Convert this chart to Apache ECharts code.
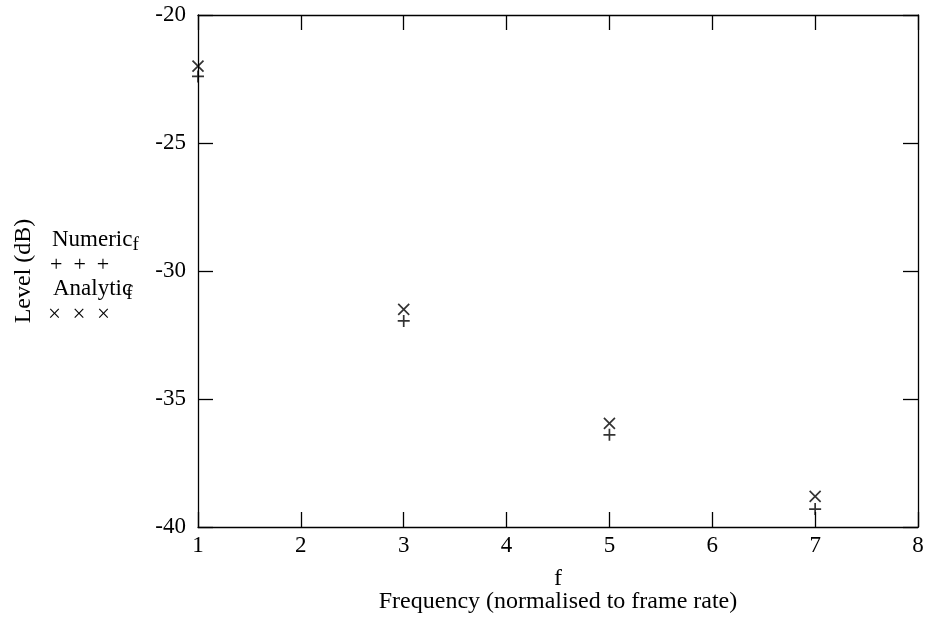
<!DOCTYPE html>
<html>
<head>
<meta charset="utf-8">
<script src="https://cdn.jsdelivr.net/npm/echarts@6/dist/echarts.min.js"></script>
<style>html,body{margin:0;padding:0;background:#fff}#c{width:930px;height:627px}</style>
</head>
<body>
<div id="c"></div>
<script>
const freqs = [1, 3, 5, 7];
const numericLevels = [-22.4, -31.95, -36.4, -39.3];
const analyticLevels = [-22.0, -31.5, -35.95, -38.8];
const xTicks = [1, 2, 3, 4, 5, 6, 7, 8];
const yTicks = [-40, -35, -30, -25, -20];

const FONT = '"Liberation Serif", "DejaVu Serif", serif';
const plusPath = 'path://M0,-5L0,5M-5,0L5,0';
const crossPath = 'path://M-5,-5L5,5M-5,5L5,-5';

const chart = echarts.init(document.getElementById('c'));
const axisLine = {show: true, lineStyle: {color: '#000', width: 1.3}};
const tick = {show: true, inside: true, length: 15, lineStyle: {color: '#000', width: 1.3}};

chart.setOption({
  animation: false,
  backgroundColor: '#fff',
  textStyle: {fontFamily: FONT},
  grid: {left: 198, right: 12, top: 15, bottom: 100},
  xAxis: [{
    type: 'value', min: 1, max: 8, interval: 1,
    axisLine, axisTick: tick, splitLine: {show: false},
    axisLabel: {color: '#000', fontSize: 23, fontFamily: FONT, margin: 7},
    name: 'f\nFrequency (normalised to frame rate)',
    nameLocation: 'middle', nameGap: 40,
    nameTextStyle: {color: '#000', fontSize: 24, fontFamily: FONT, lineHeight: 23, verticalAlign: 'top'}
  }, {
    type: 'value', min: 1, max: 8, interval: 1, position: 'top',
    axisLine, axisTick: tick, splitLine: {show: false}, axisLabel: {show: false}
  }],
  yAxis: [{
    type: 'value', min: -40, max: -20, interval: 5,
    axisLine, axisTick: tick, splitLine: {show: false},
    axisLabel: {color: '#000', fontSize: 23, fontFamily: FONT, margin: 12},
    name: 'Level (dB)', nameLocation: 'middle', nameGap: 162,
    nameTextStyle: {color: '#000', fontSize: 24, fontFamily: FONT}
  }, {
    type: 'value', min: -40, max: -20, interval: 5, position: 'right',
    axisLine, axisTick: tick, splitLine: {show: false}, axisLabel: {show: false}
  }],
  series: [{
    name: 'Numeric', type: 'scatter',
    data: freqs.map((f, i) => [f, numericLevels[i]]),
    symbol: plusPath, symbolSize: 12,
    itemStyle: {color: 'none', borderColor: '#000', borderWidth: 1.7},
    emphasis: {disabled: true}
  }, {
    name: 'Analytic', type: 'scatter',
    data: freqs.map((f, i) => [f, analyticLevels[i]]),
    symbol: crossPath, symbolSize: 11,
    itemStyle: {color: 'none', borderColor: '#000', borderWidth: 1.7},
    emphasis: {disabled: true}
  }],
  graphic: [
    {type: 'text', left: 52, top: 228, style: {
      text: '{m|Numeric}{s|f}', fill: '#000',
      rich: {m: {fontSize: 23, fontFamily: FONT, fill: '#000'}, s: {fontSize: 19, fontFamily: FONT, fill: '#000', padding: [12, 0, 0, 0]}}
    }},
    {type: 'text', left: 50, top: 254, style: {text: '+  +  +', fontSize: 22, fontFamily: FONT, fill: '#000'}},
    {type: 'text', left: 53, top: 277, style: {
      text: '{m|Analytic}{s|f}', fill: '#000',
      rich: {m: {fontSize: 23, fontFamily: FONT, fill: '#000'}, s: {fontSize: 19, fontFamily: FONT, fill: '#000', padding: [12, 0, 0, -6]}}
    }},
    {type: 'text', left: 48, top: 303, style: {text: '\u00d7  \u00d7  \u00d7', fontSize: 23, fontFamily: FONT, fill: '#000'}}
  ]
});
</script>
</body>
</html>
